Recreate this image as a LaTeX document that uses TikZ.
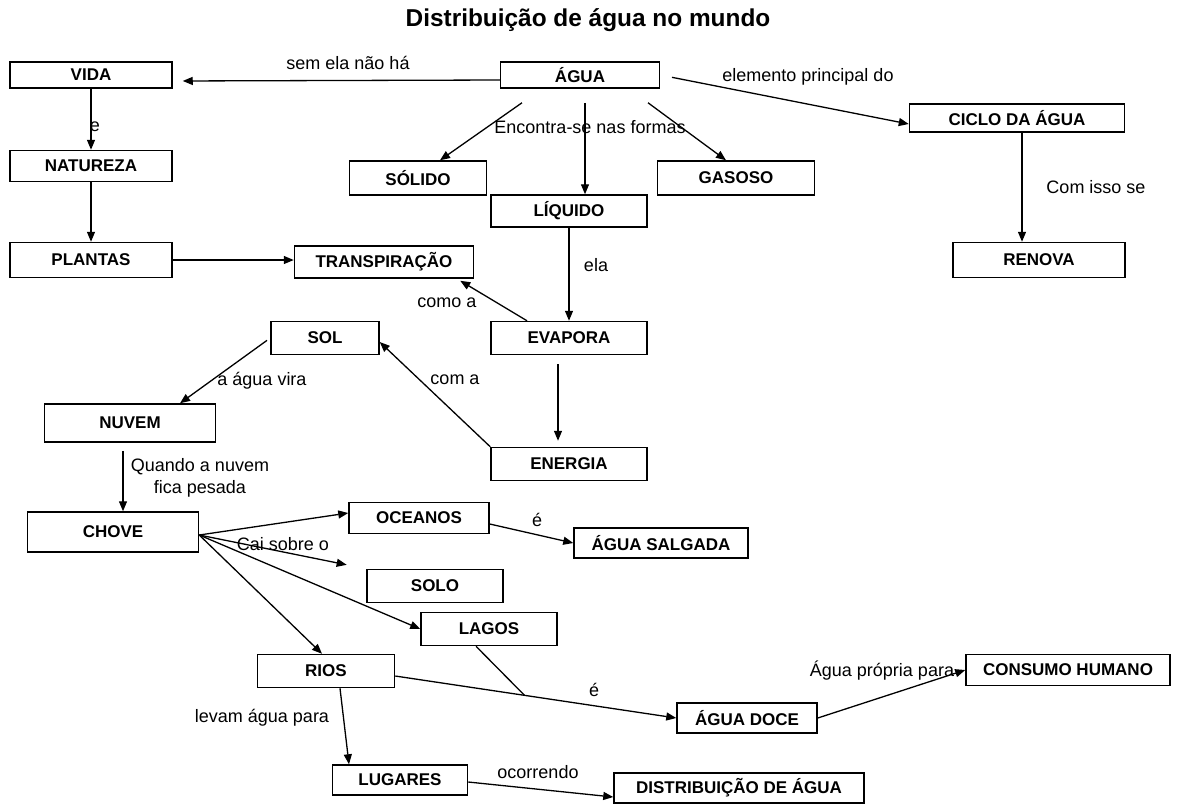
\documentclass[tikz,border=0pt]{standalone}
\usepackage{fontspec}
\setmainfont{Liberation Sans}
\usetikzlibrary{arrows.meta,calc}
\begin{document}
\begin{tikzpicture}[x=0.5pt,y=-0.5pt]
 \tikzstyle{concept}=[rectangle, draw, line width=0.75pt, inner sep=1pt, font=\fontsize{8.5}{10}\selectfont\bfseries]
 \tikzstyle{link}=[line width=0.65pt, -{Triangle[length=5pt,width=4pt]}]
 \tikzstyle{lbl}=[inner sep=0pt, font=\fontsize{9}{11}\selectfont]
\useasboundingbox (0,0) rectangle (1178,805);
\draw (588,20) node[font=\fontsize{12.2}{14}\selectfont\bfseries]{Distribuição de água no mundo};
% concepts
\draw (91,75) node[concept, minimum width=81pt, minimum height=13pt] (vida) {VIDA};
\draw (580,75) node[concept, minimum width=79.5pt, minimum height=13pt] (agua) {ÁGUA};
\draw (1017,118) node[concept, minimum width=107.5pt, minimum height=14pt] (ciclo) {CICLO DA ÁGUA};
\draw (91,166) node[concept, minimum width=81pt, minimum height=15.5pt] (natureza) {NATUREZA};
\draw (418,178) node[concept, minimum width=68.5pt, minimum height=17pt] (solido) {SÓLIDO};
\draw (736,178) node[concept, minimum width=78.5pt, minimum height=17pt] (gasoso) {GASOSO};
\draw (569,211) node[concept, minimum width=78pt, minimum height=16pt] (liquido) {LÍQUIDO};
\draw (91,260) node[concept, minimum width=81pt, minimum height=17.5pt] (plantas) {PLANTAS};
\draw (384,262) node[concept, minimum width=89.5pt, minimum height=16pt] (transp) {TRANSPIRAÇÃO};
\draw (1039,260) node[concept, minimum width=86pt, minimum height=17.5pt] (renova) {RENOVA};
\draw (325,338) node[concept, minimum width=54pt, minimum height=16.5pt] (sol) {SOL};
\draw (569,338) node[concept, minimum width=78pt, minimum height=16.5pt] (evapora) {EVAPORA};
\draw (130,423) node[concept, minimum width=85.5pt, minimum height=19pt] (nuvem) {NUVEM};
\draw (569,464) node[concept, minimum width=78pt, minimum height=16.5pt] (energia) {ENERGIA};
\draw (113,532) node[concept, minimum width=85.5pt, minimum height=20pt] (chove) {CHOVE};
\draw (419,518) node[concept, minimum width=70pt, minimum height=15.5pt] (oceanos) {OCEANOS};
\draw (661,543) node[concept, minimum width=87pt, minimum height=15pt] (salgada) {ÁGUA SALGADA};
\draw (435,586) node[concept, minimum width=68pt, minimum height=16.5pt] (solo) {SOLO};
\draw (489,629) node[concept, minimum width=68pt, minimum height=16.5pt] (lagos) {LAGOS};
\draw (326,671) node[concept, minimum width=68.5pt, minimum height=16.5pt] (rios) {RIOS};
\draw (1068,670) node[concept, minimum width=102pt, minimum height=15.5pt] (consumo) {CONSUMO HUMANO};
\draw (747,718) node[concept, minimum width=70pt, minimum height=15pt] (doce) {ÁGUA DOCE};
\draw (400,780) node[concept, minimum width=67.5pt, minimum height=15pt] (lugares) {LUGARES};
\draw (739,788) node[concept, minimum width=125pt, minimum height=15pt] (distrib) {DISTRIBUIÇÃO DE ÁGUA};
% links
\draw[link, shorten >=5pt] ([yshift=-2.5pt]agua.west) -- ([yshift=-3pt]vida.east);
\draw (348,63) node[lbl]{sem ela não há};
\draw[link, shorten <=6pt] (agua.east) -- ([yshift=-3pt]ciclo.west);
\draw (808,77) node[lbl]{elemento principal do};
\draw[link] ([xshift=-29pt,yshift=-7pt]agua.south) -- ([xshift=11pt]solido.north);
\draw[link] ([xshift=2.5pt,yshift=-7pt]agua.south) -- ([xshift=8pt]liquido.north);
\draw[link] ([xshift=34pt,yshift=-7pt]agua.south) -- ([xshift=-5pt]gasoso.north);
\draw (590,127) node[lbl]{Encontra-se nas formas};
\draw[link] (vida.south) -- (natureza.north);
\draw (95,127) node[lbl]{e};
\draw[link] (natureza.south) -- (plantas.north);
\draw[link] (plantas.east) -- (plantas.east -| transp.west);
\draw[link] ([xshift=2.5pt]ciclo.south) -- ([xshift=2.5pt]ciclo.south |- renova.north);
\draw (1096,187) node[lbl]{Com isso se};
\draw[link] (liquido.south) -- (evapora.north);
\draw (596,265) node[lbl]{ela};
\draw[link] ([xshift=-21pt]evapora.north) -- ([xshift=-7pt,yshift=-1pt]transp.south east);
\draw (447,303) node[lbl]{como a};
\draw[link, shorten <=4.5pt, shorten >=3pt] ([xshift=-5.5pt]evapora.south) -- ([xshift=-5.5pt]energia.north);
\draw[link] (energia.north west) -- ([yshift=-2pt]sol.east);
\draw (455,380) node[lbl]{com a};
\draw[link, shorten <=2pt] (sol.west) -- ([xshift=25pt]nuvem.north);
\draw (262,381) node[lbl]{a água vira};
\draw[link, shorten <=4pt] ([xshift=-3.5pt]nuvem.south) -- ([xshift=-3.5pt]nuvem.south |- chove.north);
\draw (200,478) node[lbl, align=center]{Quando a nuvem\\fica pesada};
\draw[link] ([yshift=-1.5pt]chove.east) -- ([yshift=2.5pt]oceanos.west);
\draw[link, shorten >=10pt] ([yshift=-1.5pt]chove.east) -- (solo.north west);
\draw (283,544) node[lbl]{Cai sobre o};
\draw[link] ([yshift=-1.5pt]chove.east) -- (lagos.west);
\draw[link] ([yshift=-1.5pt]chove.east) -- ([xshift=-2pt]rios.north);
\draw[link] ([yshift=-3pt]oceanos.east) -- (salgada.west);
\draw (537,520) node[lbl]{é};
\draw[link] ([yshift=-2.5pt]rios.east) -- (doce.west);
\coordinate (junc) at ($([yshift=-2.5pt]rios.east)!0.46!(doce.west)$);
\draw[line width=0.65pt] ([xshift=-6.5pt]lagos.south) -- (junc);
\draw (594,690) node[lbl]{é};
\draw[link] (doce.east) -- (consumo.west);
\draw (882,671) node[lbl]{Água própria para};
\draw[link] ([xshift=7pt]rios.south) -- ([xshift=-25.5pt]lugares.north);
\draw (262,718) node[lbl]{levam água para};
\draw[link] ([yshift=-1pt]lugares.east) -- ([yshift=-4.5pt]distrib.west);
\draw (538,772) node[lbl]{ocorrendo};
\end{tikzpicture}
\end{document}
